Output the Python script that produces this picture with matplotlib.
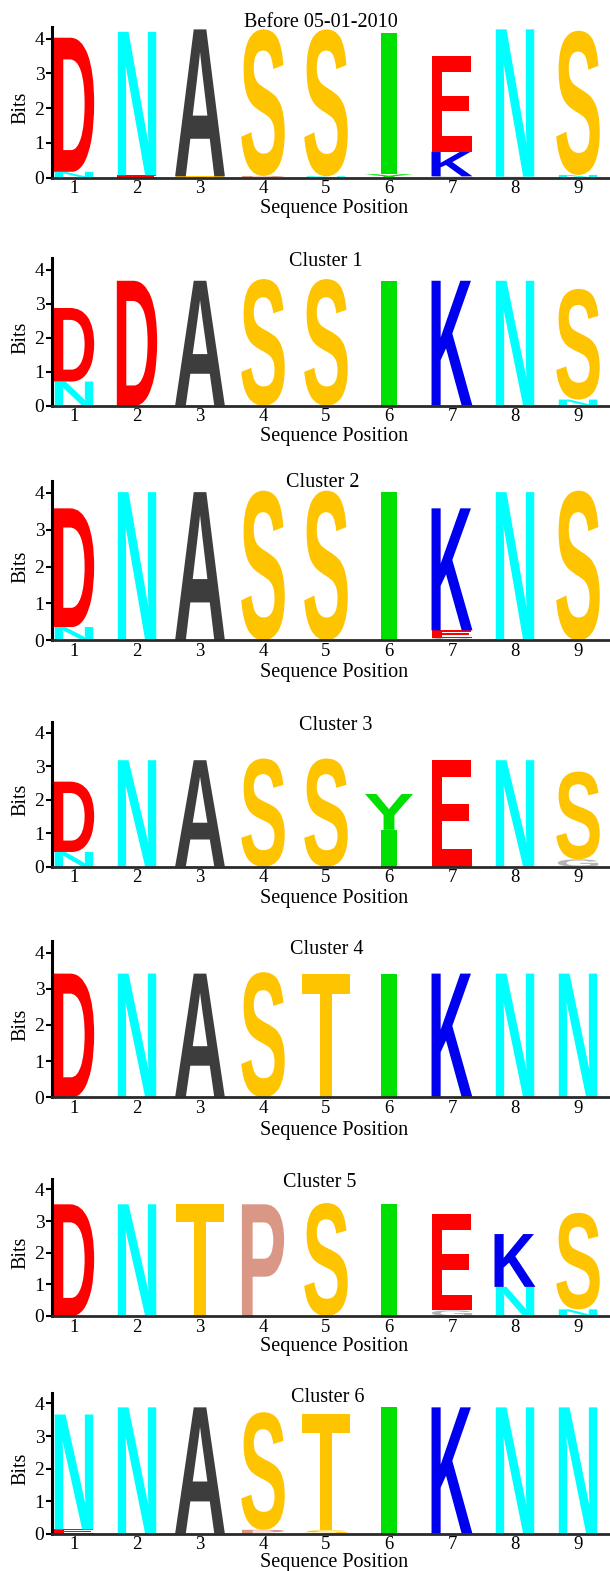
import matplotlib
matplotlib.use("Agg")
import matplotlib.pyplot as plt
from matplotlib.textpath import TextPath
from matplotlib.font_manager import FontProperties
from matplotlib.patches import PathPatch
from matplotlib.transforms import Affine2D

# ---------------- data ----------------
titles = ["Before 05-01-2010", "Cluster 1", "Cluster 2", "Cluster 3",
          "Cluster 4", "Cluster 5", "Cluster 6"]
positions = [1, 2, 3, 4, 5, 6, 7, 8, 9]
yticks = [0, 1, 2, 3, 4]
xlabel_text = "Sequence Position"
ylabel_text = "Bits"

# stacks listed bottom -> top
before_letters = [["N", "D"], ["E", "N"], ["T", "A"], ["P", "S"], ["N", "S"],
                  ["Y", "I"], ["G", "K", "E"], ["G", "N"], ["N", "S"]]
before_bits = [[0.17, 3.86], [0.07, 4.13], [0.04, 4.23], [0.05, 4.22], [0.04, 4.23],
               [0.10, 4.07], [0.04, 0.71, 2.75], [0.03, 4.24], [0.08, 4.15]]

c1_letters = [["N", "D"], ["D"], ["A"], ["S"], ["S"], ["I"], ["K"], ["N"], ["N", "S"]]
c1_bits = [[0.71, 2.16], [3.67], [3.67], [3.72], [3.72], [3.67], [3.67], [3.67], [0.18, 3.25]]

c2_letters = [["N", "D"], ["N"], ["A"], ["S"], ["S"], ["I"], ["G", "E", "K"], ["N"], ["S"]]
c2_bits = [[0.36, 3.22], [4.02], [4.02], [4.06], [4.06], [4.02], [0.07, 0.20, 3.31], [4.02], [4.06]]

c3_letters = [["N", "D"], ["N"], ["A"], ["S"], ["S"], ["I", "Y"], ["E"], ["N"], ["G", "S"]]
c3_bits = [[0.44, 2.10], [3.18], [3.18], [3.23], [3.23], [1.10, 1.07], [3.18], [3.18], [0.22, 2.62]]

c4_letters = [["D"], ["N"], ["A"], ["S"], ["T"], ["I"], ["K"], ["N"], ["N"]]
c4_bits = [[3.42], [3.42], [3.42], [3.46], [3.42], [3.42], [3.42], [3.42], [3.42]]

c5_letters = [["D"], ["N"], ["T"], ["P"], ["S"], ["I"], ["G", "E"], ["N", "K"], ["N", "S"]]
c5_bits = [[3.53], [3.53], [3.53], [3.53], [3.57], [3.53], [0.18, 3.03], [0.92, 1.67], [0.21, 3.05]]

c6_letters = [["E", "N"], ["N"], ["A"], ["P", "S"], ["S", "T"], ["I"], ["K"], ["N"], ["N"]]
c6_bits = [[0.13, 3.53], [3.88], [3.88], [0.12, 3.61], [0.10, 3.57], [3.88], [3.88], [3.88], [3.88]]

panel_letters = [before_letters, c1_letters, c2_letters, c3_letters,
                 c4_letters, c5_letters, c6_letters]
panel_bits = [before_bits, c1_bits, c2_bits, c3_bits, c4_bits, c5_bits, c6_bits]

# ---------------- style ----------------
COLORS = {"D": "#FF0000", "E": "#FF0000", "N": "#00FFFF", "A": "#3D3D3D",
          "S": "#FFC400", "T": "#FFC400", "I": "#00E000", "Y": "#00E000",
          "K": "#0000F0", "P": "#DA9786", "G": "#B4B4B4"}
LWIDTH = {"D": 0.64, "E": 0.65, "N": 0.61, "A": 0.79, "S": 0.69, "T": 0.76,
          "I": 0.24, "Y": 0.76, "K": 0.65, "P": 0.67, "G": 0.64}

W, H = 610, 1571
AX_LEFT = 52
# pixel layout: (baseline y, spine top y, title x, title y, xlabel y)
layout = [(177.7, 27.3, 321, 22.7, 208.0),
          (405.7, 258.3, 326, 261.0, 436.0),
          (640.3, 480.7, 323, 482.7, 672.5),
          (866.7, 721.7, 336, 725.0, 898.0),
          (1097.3, 940.7, 327, 950.0, 1131.0),
          (1316.0, 1179.0, 320, 1182.7, 1347.0),
          (1533.7, 1392.7, 328, 1397.3, 1562.0)]
XLIM = (0.651, 9.508)
YLIM = (0, 4.33)
SERIF = "Liberation Serif"
FS = 14.5
TFS = 13.5

letter_font = FontProperties(family="Liberation Sans", weight="bold")
_glyph_cache = {}


def glyph(ch):
    if ch not in _glyph_cache:
        tp = TextPath((0, 0), ch, size=1, prop=letter_font)
        _glyph_cache[ch] = (tp, tp.get_extents())
    return _glyph_cache[ch]


def draw_letter(ax, ch, xc, y0, h):
    tp, bb = glyph(ch)
    w = LWIDTH[ch]
    tr = (Affine2D().translate(-bb.x0, -bb.y0)
          .scale(w / bb.width, h / bb.height)
          .translate(xc - w / 2, y0))
    ax.add_patch(PathPatch(tr.transform_path(tp), facecolor=COLORS[ch],
                           edgecolor="none", lw=0))


fig = plt.figure(figsize=(W / 100, H / 100), dpi=100)

for k in range(len(titles)):
    base, top, tx, ty, xly = layout[k]
    ax = fig.add_axes([AX_LEFT / W, 1 - base / H, (W - AX_LEFT) / W, (base - top) / H])
    ax.set_xlim(*XLIM)
    ax.set_ylim(*YLIM)
    for s in ("top", "right"):
        ax.spines[s].set_visible(False)
    ax.spines["left"].set_linewidth(2.2)
    ax.spines["left"].set_color("black")
    ax.spines["bottom"].set_linewidth(2.0)
    ax.spines["bottom"].set_color("#2a2a2a")
    ax.set_xticks(positions)
    ax.set_xticklabels([str(p) for p in positions], fontfamily=SERIF, fontsize=TFS)
    ax.set_yticks(yticks)
    ax.set_yticklabels([str(v) for v in yticks], fontfamily=SERIF, fontsize=TFS + 0.5)
    ax.tick_params(axis="x", length=0, pad=2.0)
    ax.tick_params(axis="y", length=4, width=1.5, pad=1.5, direction="out")
    ax.set_ylabel(ylabel_text, fontfamily=SERIF, fontsize=FS)
    ax.yaxis.set_label_coords(-(AX_LEFT - 30) / (W - AX_LEFT), 2 / YLIM[1])
    ax.patch.set_alpha(0)

    for i, p in enumerate(positions):
        y = 0.0
        for ch, h in zip(panel_letters[k][i], panel_bits[k][i]):
            draw_letter(ax, ch, p, y, h)
            y += h

    fig.text(tx / W, 1 - ty / H, titles[k], ha="center", va="center",
             fontfamily=SERIF, fontsize=FS)
    fig.text(334 / W, 1 - xly / H, xlabel_text, ha="center", va="center",
             fontfamily=SERIF, fontsize=FS)

fig.savefig("out.png", dpi=100)
